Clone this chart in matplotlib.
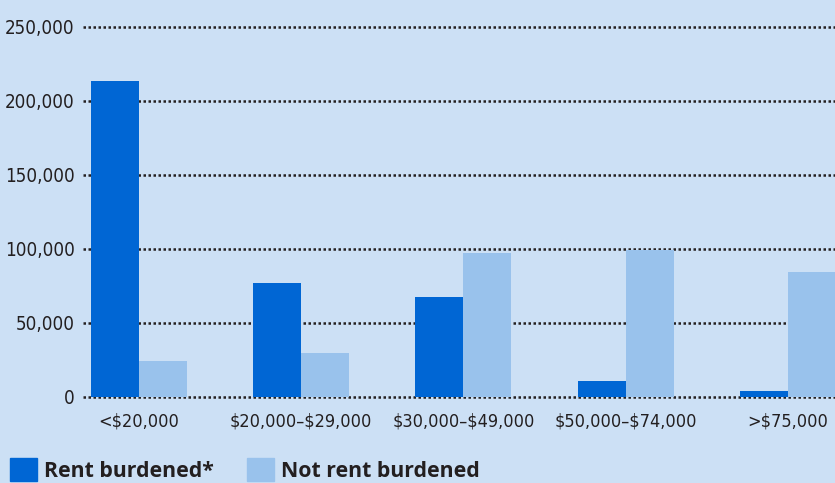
import numpy as np
import matplotlib.pyplot as plt
from matplotlib.patches import Patch

plt.rcParams["text.parse_math"] = False

# income groups and household counts
categories = ["<$20,000", "$20,000\u2013$29,000", "$30,000\u2013$49,000",
              "$50,000\u2013$74,000", ">$75,000"]
rent_burdened = [213500, 77000, 67800, 10800, 4000]
not_burdened = [24300, 29700, 97500, 99300, 84500]
yticks = [0, 50000, 100000, 150000, 200000, 250000]

bg = "#cce0f5"
dark = "#0066d4"
light = "#99c2ec"
txt = "#231f20"

fig = plt.figure(figsize=(8.35, 4.83), dpi=100, facecolor=bg)
ax = fig.add_axes([83 / 835, (483 - 399) / 483, 1 - 83 / 835, 390 / 483])
ax.set_facecolor(bg)

x = np.arange(len(categories))
w = 0.296
ax.bar(x - w / 2, rent_burdened, w, color=dark, zorder=3)
ax.bar(x + w / 2, not_burdened, w, color=light, zorder=3)

ax.set_xlim(-0.345, 4.29)
ax.set_ylim(-1400, 262000)
ax.set_yticks(yticks)
ax.set_yticklabels([f"{v:,}" for v in yticks], family="DejaVu Sans",
                   stretch="condensed", fontsize=13.5, color=txt)
ax.set_xticks(x)
ax.set_xticklabels(categories, family="DejaVu Sans", stretch="condensed",
                   fontsize=13, color=txt)
ax.tick_params(length=0, axis="y", pad=6)
ax.tick_params(length=0, axis="x", pad=10)
for s in ax.spines.values():
    s.set_visible(False)

ax.yaxis.grid(True, color=txt, linestyle=(0, (1, 1)), linewidth=1.8, zorder=2)
ax.set_axisbelow(True)

handles = [Patch(color=dark, label="Rent burdened*"),
           Patch(color=light, label="Not rent burdened")]
leg = ax.legend(handles=handles, ncol=2, frameon=False,
                loc="lower left", bbox_to_anchor=(10 / 835, 0.003),
                bbox_transform=fig.transFigure,
                prop={"family": "Open Sans", "weight": "bold", "size": 15.3},
                handlelength=1.25, handleheight=1.25, handletextpad=0.33,
                columnspacing=1.6, borderpad=0, borderaxespad=0)
for t in leg.get_texts():
    t.set_color(txt)

fig.savefig("out.png", dpi=100, facecolor=bg)
